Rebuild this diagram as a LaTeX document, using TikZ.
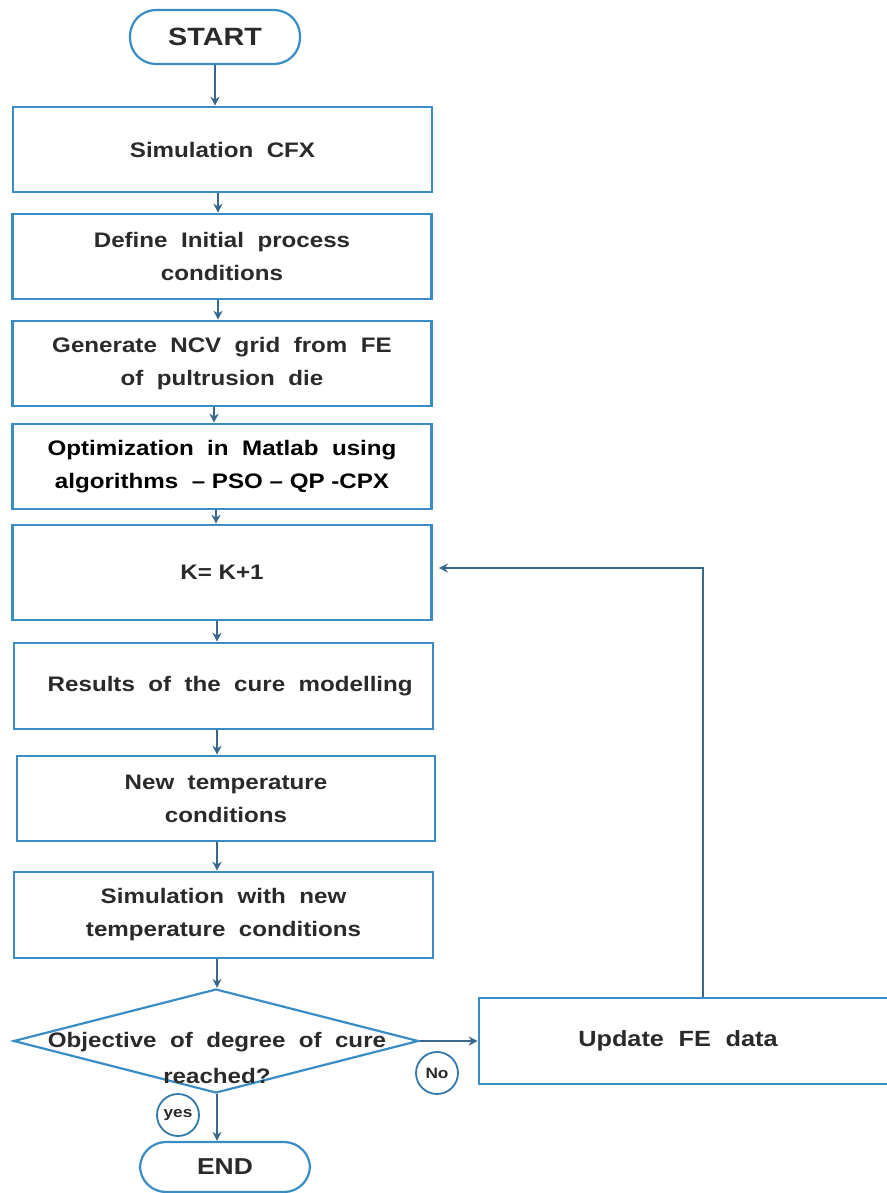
\documentclass[tikz,border=0pt]{standalone}
\usepackage{fontspec}
\setmainfont{Liberation Sans}[FakeStretch=1.15]
\usetikzlibrary{shapes.geometric,arrows.meta}
\definecolor{boxblue}{RGB}{58,140,196}
\definecolor{arrowblue}{RGB}{58,104,140}
\definecolor{tagblue}{RGB}{52,120,170}
\definecolor{txt}{RGB}{42,42,42}
\begin{document}
\begin{tikzpicture}[x=1pt,y=-1pt,
  stepbox/.style={draw=boxblue, line width=2.6pt, fill=white, minimum width=419pt,
    minimum height=85pt, align=center, inner sep=0pt, text=txt,
    font=\bfseries\fontsize{21}{33}\selectfont},
  term/.style={draw=boxblue, line width=2.2pt, rounded corners=26pt, minimum width=170pt,
    minimum height=54pt, inner sep=0pt, text=txt, font=\bfseries\fontsize{25}{30}\selectfont},
  flow/.style={draw=arrowblue, line width=1.8pt, -{Stealth[length=9pt,width=9pt]}},
  tag/.style={circle, draw=tagblue, line width=1.8pt, minimum size=42pt, inner sep=0pt,
    text=txt, font=\bfseries\fontsize{15}{17}\selectfont}
]
\useasboundingbox (0,0) rectangle (886,1193);

% terminals
\node[term] (start) at (215,37) {START};
\node[term, minimum height=50pt, font=\bfseries\fontsize{23}{28}\selectfont] (end) at (225,1167) {END};

% process steps
\node[stepbox] (sim) at (222.5,149.5) {Simulation\ \ CFX};
\node[stepbox] (def) at (222,256.5) {Define\ \ Initial\ \ process\\conditions};
\node[stepbox] (gen) at (222,363.5) {Generate\ \ NCV\ \ grid\ \ from\ \ FE\\of\ \ pultrusion\ \ die};
\node[stepbox, text=black] (opt) at (222,466.5) {Optimization\ \ in\ \ Matlab\ \ using\\algorithms\ \ -- PSO -- QP -CPX};
\node[stepbox, minimum height=95pt] (k) at (222,572.5) {K= K+1};
\node[stepbox, minimum height=86pt] (res) at (223.5,686) {\ \ Results\ \ of\ \ the\ \ cure\ \ modelling};
\node[stepbox, minimum width=418pt] (newt) at (226,798.5) {New\ \ temperature\\conditions};
\node[stepbox, minimum height=86pt] (simnew) at (223.5,915) {Simulation\ \ with\ \ new\\temperature\ \ conditions};

% decision
\node[diamond, draw=boxblue, line width=2.2pt, minimum width=405pt, minimum height=104pt,
  inner sep=0pt] (dec) at (216,1041) {};
\node[align=center, text=txt, font=\bfseries\fontsize{21}{36}\selectfont] (dectxt) at (217,1058)
  {Objective\ \ of\ \ degree\ \ of\ \ cure\\reached?};

% update box, its right side runs past the page edge
\node[stepbox, minimum width=442pt, minimum height=86pt, text width=420pt,
  font=\bfseries\fontsize{22}{33}\selectfont] (upd) at (700,1041)
  {Update\ \ FE\ \ data\hspace*{44pt}};

% branch tags
\node[tag] (yes) at (178,1115) {yes};
\node[tag] (no) at (437,1073) {No};

% connectors
\draw[flow] (start.south -| 215,0) -- (sim.north -| 215,0);
\draw[flow] (sim.south -| 218,0) -- (def.north -| 218,0);
\draw[flow] (def.south -| 218,0) -- (gen.north -| 218,0);
\draw[flow] (gen.south -| 214,0) -- (opt.north -| 214,0);
\draw[flow] (opt.south -| 216,0) -- (k.north -| 216,0);
\draw[flow] (k.south -| 217,0) -- (res.north -| 217,0);
\draw[flow] (res.south -| 217,0) -- (newt.north -| 217,0);
\draw[flow] (newt.south -| 217,0) -- (simnew.north -| 217,0);
\draw[flow] (simnew.south -| 217,0) -- (dec.north -| 217,0);
\draw[flow] (dec.south -| 217,0) -- (end.north -| 217,0);
\draw[flow] (dec.east) -- (upd.west);
\draw[flow] (upd.north -| 703,0) |- ([xshift=6pt]k.east |- 0,568);
\end{tikzpicture}
\end{document}
